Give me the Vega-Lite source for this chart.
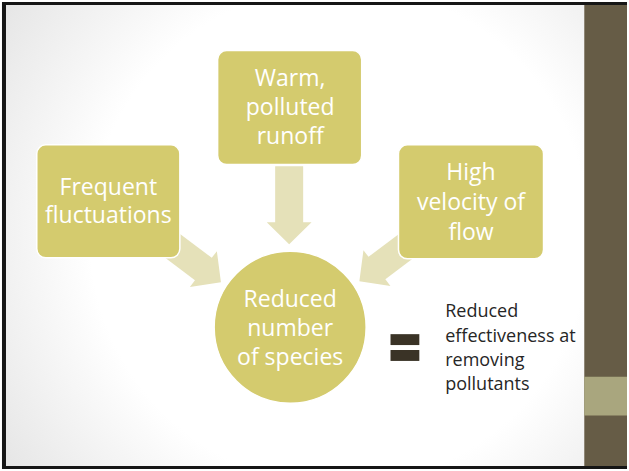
{
  "$schema": "https://vega.github.io/schema/vega-lite/v6.json",
  "width": 629,
  "height": 471,
  "padding": 0,
  "autosize": {"type": "fit", "contains": "padding"},
  "background": "#ffffff",
  "config": {"view": {"stroke": null}},
  "datasets": {
    "slide": [{"x": 0, "x2": 586, "y": 0, "y2": 471}],
    "bands": [
      {"part": "dark", "x": 586, "x2": 629, "y": 0, "y2": 471},
      {"part": "light", "x": 586, "x2": 629, "y": 378, "y2": 417}
    ],
    "frame": [
      {"edge": "left", "x": 2, "x2": 2, "y": 0, "y2": 471, "w": 4},
      {"edge": "top", "x": 0, "x2": 629, "y": 1.5, "y2": 1.5, "w": 3},
      {"edge": "bottom", "x": 0, "x2": 629, "y": 469.5, "y2": 469.5, "w": 3}
    ],
    "arrows": [
      {"from": "Warm, polluted runoff", "x": 289, "y": 205, "angle": 0},
      {"from": "Frequent fluctuations", "x": 189, "y": 259, "angle": 307},
      {"from": "High velocity of flow", "x": 391, "y": 258, "angle": 53}
    ],
    "boxes": [
      {"box": "Frequent fluctuations", "x": 35, "x2": 179, "y": 144, "y2": 258},
      {"box": "Warm, polluted runoff", "x": 217, "x2": 362, "y": 49, "y2": 164},
      {"box": "High velocity of flow", "x": 399, "x2": 545, "y": 144, "y2": 259}
    ],
    "circle": [{"node": "Reduced number of species", "x": 290, "y": 328}],
    "equals": [
      {"bar": "top", "x": 391, "x2": 420, "y": 335, "y2": 346},
      {"bar": "bottom", "x": 391, "x2": 420, "y": 351, "y2": 362}
    ],
    "nodeText": [
      {"t": "Frequent", "x": 107, "y": 195},
      {"t": "fluctuations", "x": 107, "y": 223},
      {"t": "Warm,", "x": 290, "y": 85},
      {"t": "polluted", "x": 290, "y": 114},
      {"t": "runoff", "x": 290, "y": 143},
      {"t": "High", "x": 472, "y": 180},
      {"t": "velocity of", "x": 472, "y": 210},
      {"t": "flow", "x": 472, "y": 240},
      {"t": "Reduced", "x": 290, "y": 308},
      {"t": "number", "x": 290, "y": 337},
      {"t": "of species", "x": 290, "y": 366}
    ],
    "sideText": [
      {"t": "Reduced", "x": 446, "y": 318},
      {"t": "effectiveness at", "x": 446, "y": 343},
      {"t": "removing", "x": 446, "y": 367},
      {"t": "pollutants", "x": 446, "y": 391}
    ]
  },
  "encoding": {
    "x": {"field": "x", "type": "quantitative", "scale": {"domain": [0, 629], "nice": false, "zero": false}, "axis": null},
    "y": {"field": "y", "type": "quantitative", "scale": {"domain": [0, 471], "nice": false, "zero": false, "reverse": true}, "axis": null}
  },
  "layer": [
    {
      "data": {"name": "slide"},
      "mark": {"type": "rect", "fill": {"gradient": "radial", "x1": 0.58, "y1": 0.5, "r1": 0, "x2": 0.58, "y2": 0.5, "r2": 0.78, "stops": [{"offset": 0.55, "color": "#ffffff"}, {"offset": 1, "color": "#dedede"}]}},
      "encoding": {"x2": {"field": "x2"}, "y2": {"field": "y2"}}
    },
    {
      "data": {"name": "bands"},
      "mark": {"type": "rect"},
      "encoding": {
        "x2": {"field": "x2"}, "y2": {"field": "y2"},
        "color": {"field": "part", "type": "nominal", "scale": {"domain": ["dark", "light"], "range": ["#665c46", "#a9a67e"]}, "legend": null}
      }
    },
    {
      "data": {"name": "frame"},
      "mark": {"type": "rule", "color": "#161616"},
      "encoding": {
        "x2": {"field": "x2"}, "y2": {"field": "y2"},
        "strokeWidth": {"field": "w", "type": "quantitative", "scale": null}
      }
    },
    {
      "data": {"name": "arrows"},
      "mark": {"type": "point", "shape": "M-0.35,-0.975L0.35,-0.975L0.35,0.425L0.56,0.425L0,0.975L-0.56,0.425L-0.35,0.425Z", "size": 6400, "filled": true, "fill": "#e5e1b9", "opacity": 1, "strokeWidth": 0},
      "encoding": {"angle": {"field": "angle", "type": "quantitative", "scale": null}}
    },
    {
      "data": {"name": "boxes"},
      "mark": {"type": "rect", "fill": "#d4cb6e", "stroke": "#ffffff", "strokeWidth": 1.5, "cornerRadius": 9},
      "encoding": {"x2": {"field": "x2"}, "y2": {"field": "y2"}}
    },
    {
      "data": {"name": "circle"},
      "mark": {"type": "point", "shape": "circle", "size": 23104, "filled": true, "fill": "#d4cb6e", "stroke": "#ffffff", "strokeWidth": 1.5, "opacity": 1}
    },
    {
      "data": {"name": "equals"},
      "mark": {"type": "rect", "fill": "#3a3326"},
      "encoding": {"x2": {"field": "x2"}, "y2": {"field": "y2"}}
    },
    {
      "data": {"name": "nodeText"},
      "mark": {"type": "text", "font": "Open Sans", "fontSize": 23, "color": "#ffffff", "align": "center", "baseline": "alphabetic"},
      "encoding": {"text": {"field": "t"}}
    },
    {
      "data": {"name": "sideText"},
      "mark": {"type": "text", "font": "Open Sans", "fontSize": 18, "color": "#262626", "align": "left", "baseline": "alphabetic"},
      "encoding": {"text": {"field": "t"}}
    }
  ]
}
